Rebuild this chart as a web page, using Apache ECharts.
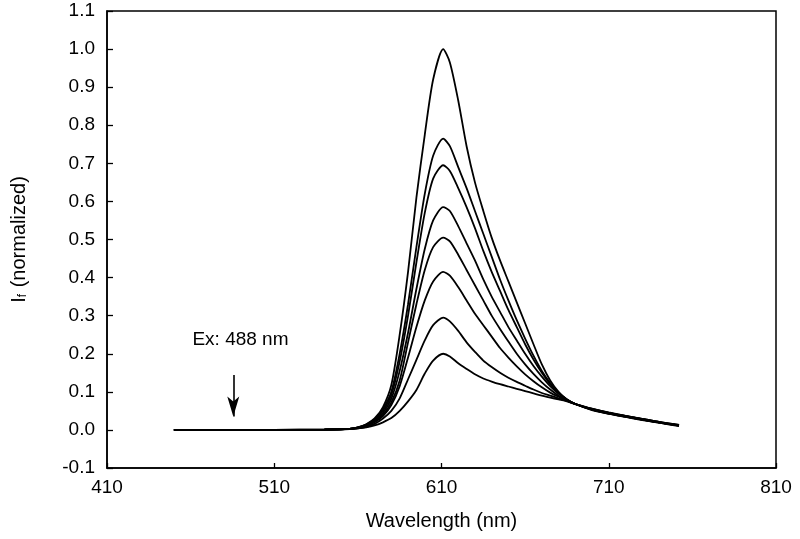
<!DOCTYPE html>
<html>
<head>
<meta charset="utf-8">
<script src="https://cdn.jsdelivr.net/npm/echarts@6/dist/echarts.min.js"></script>
<style>html,body{margin:0;padding:0;background:#fff;}#c{width:800px;height:539px;}</style>
</head>
<body>
<div id="c"></div>
<script>
// Wavelength grid (nm)
const wavelengths = [450,480,510,540,555,560,565,570,575,580,585,590,595,600,605,611,615,620,625,630,635,640,645,650,655,660,665,670,675,680,685,690,700,710,720,730,740,752];
// Normalized fluorescence intensity curves
const curve100 = [0,0,0,0.001,0.003,0.007,0.015,0.03,0.06,0.118,0.25,0.415,0.61,0.775,0.92,1.0,0.965,0.865,0.745,0.65,0.575,0.505,0.445,0.39,0.335,0.28,0.225,0.172,0.13,0.10,0.08,0.068,0.052,0.042,0.034,0.026,0.019,0.01];
const curve765 = [0,0,0,0.001,0.003,0.007,0.014,0.028,0.055,0.10,0.20,0.33,0.48,0.62,0.72,0.765,0.745,0.69,0.635,0.575,0.515,0.455,0.395,0.34,0.288,0.24,0.195,0.155,0.123,0.097,0.08,0.068,0.053,0.043,0.035,0.027,0.019,0.011];
const curve695 = [0,0,0,0.001,0.003,0.006,0.013,0.026,0.05,0.092,0.18,0.30,0.44,0.57,0.66,0.695,0.68,0.635,0.585,0.53,0.47,0.415,0.365,0.315,0.27,0.225,0.185,0.15,0.12,0.097,0.08,0.068,0.053,0.043,0.035,0.027,0.02,0.011];
const curve585 = [0,0,0,0.001,0.003,0.006,0.012,0.024,0.045,0.082,0.155,0.255,0.37,0.475,0.55,0.585,0.575,0.535,0.49,0.445,0.395,0.35,0.31,0.27,0.235,0.2,0.168,0.14,0.115,0.095,0.079,0.068,0.054,0.044,0.035,0.027,0.02,0.012];
const curve505 = [0,0,0,0.001,0.003,0.006,0.011,0.022,0.04,0.072,0.13,0.23,0.33,0.42,0.48,0.505,0.495,0.46,0.42,0.38,0.34,0.30,0.265,0.232,0.2,0.172,0.147,0.125,0.106,0.09,0.078,0.068,0.054,0.044,0.036,0.028,0.02,0.012];
const curve415 = [0,0,0,0.001,0.003,0.005,0.01,0.02,0.036,0.065,0.115,0.19,0.27,0.34,0.39,0.415,0.405,0.375,0.34,0.305,0.275,0.245,0.215,0.19,0.167,0.146,0.128,0.112,0.098,0.087,0.077,0.068,0.055,0.045,0.036,0.028,0.02,0.012];
const curve295 = [0,0,0,0.001,0.002,0.004,0.008,0.016,0.03,0.05,0.083,0.133,0.184,0.235,0.275,0.295,0.285,0.26,0.23,0.205,0.182,0.165,0.15,0.137,0.126,0.116,0.106,0.097,0.09,0.083,0.076,0.068,0.055,0.045,0.037,0.029,0.021,0.013];
const curve200 = [0,0,0,0.001,0.002,0.004,0.007,0.012,0.02,0.031,0.05,0.075,0.105,0.148,0.182,0.2,0.193,0.175,0.16,0.146,0.135,0.127,0.12,0.114,0.108,0.102,0.096,0.09,0.085,0.08,0.075,0.068,0.056,0.046,0.037,0.029,0.021,0.013];
const curves = [curve100, curve765, curve695, curve585, curve505, curve415, curve295, curve200];

// Axis ticks
const xTicks = [410, 510, 610, 710, 810];
// Annotation
const annotationText = 'Ex: 488 nm';
const annotationTextPos = [489.8, 0.236];
const arrowX = 485.5;
const arrowTop = 0.144;
const arrowTip = 0.035;

const font = '"Liberation Sans", Arial, Helvetica, sans-serif';

const series = curves.map((c, i) => {
  const s = {
    type: 'line',
    data: wavelengths.map((w, j) => [w, c[j]]),
    showSymbol: false,
    smooth: 0.25,
    lineStyle: { color: '#000', width: 1.8 },
    z: 3
  };
  if (i === 0) {
    s.markLine = {
      silent: true,
      symbol: ['none', 'arrow'],
      symbolSize: [9, 20],
      label: { show: false },
      lineStyle: { color: '#000', width: 1.6, type: 'solid' },
      data: [[{ coord: [arrowX, arrowTop] }, { coord: [arrowX, arrowTip] }]]
    };
    s.markPoint = {
      silent: true,
      symbol: 'circle',
      symbolSize: 1,
      itemStyle: { color: 'rgba(0,0,0,0)' },
      label: { show: true, position: 'inside', formatter: annotationText, color: '#000', fontSize: 19, fontFamily: font },
      data: [{ coord: annotationTextPos }]
    };
  }
  return s;
});

const chart = echarts.init(document.getElementById('c'), null, { renderer: 'canvas' });
chart.setOption({
  animation: false,
  backgroundColor: '#fff',
  grid: { left: 107, right: 24, top: 11, bottom: 71, show: true, borderColor: '#000', borderWidth: 1.5, backgroundColor: 'transparent' },
  xAxis: {
    type: 'value', min: 410, max: 810,
    name: 'Wavelength (nm)', nameLocation: 'middle', nameGap: 43,
    nameTextStyle: { color: '#000', fontSize: 20, fontFamily: font },
    axisLine: { show: true, onZero: false, lineStyle: { color: '#000', width: 1.5 } },
    axisTick: { show: true, inside: true, length: 5, customValues: xTicks, lineStyle: { color: '#000', width: 1.3 } },
    axisLabel: { customValues: xTicks, color: '#000', fontSize: 19, fontFamily: font, margin: 10, formatter: v => String(v) },
    splitLine: { show: false }
  },
  yAxis: {
    type: 'value', min: -0.1, max: 1.1, interval: 0.1,
    name: '{a|I}{s|f}{a| (normalized)}', nameLocation: 'middle', nameGap: 78, nameRotate: 90,
    nameTextStyle: { color: '#000', fontFamily: font, rich: {
      a: { fontSize: 20, fontFamily: font, color: '#000' },
      s: { fontSize: 12, fontFamily: font, color: '#000', verticalAlign: 'bottom', padding: [0, 1, 0, 0] }
    } },
    axisLine: { show: true, onZero: false, lineStyle: { color: '#000', width: 1.5 } },
    axisTick: { show: true, inside: true, length: 6, lineStyle: { color: '#000', width: 1.3 } },
    axisLabel: { color: '#000', fontSize: 19, fontFamily: font, margin: 12, formatter: v => v.toFixed(1) },
    splitLine: { show: false }
  },
  series: series
});
</script>
</body>
</html>
